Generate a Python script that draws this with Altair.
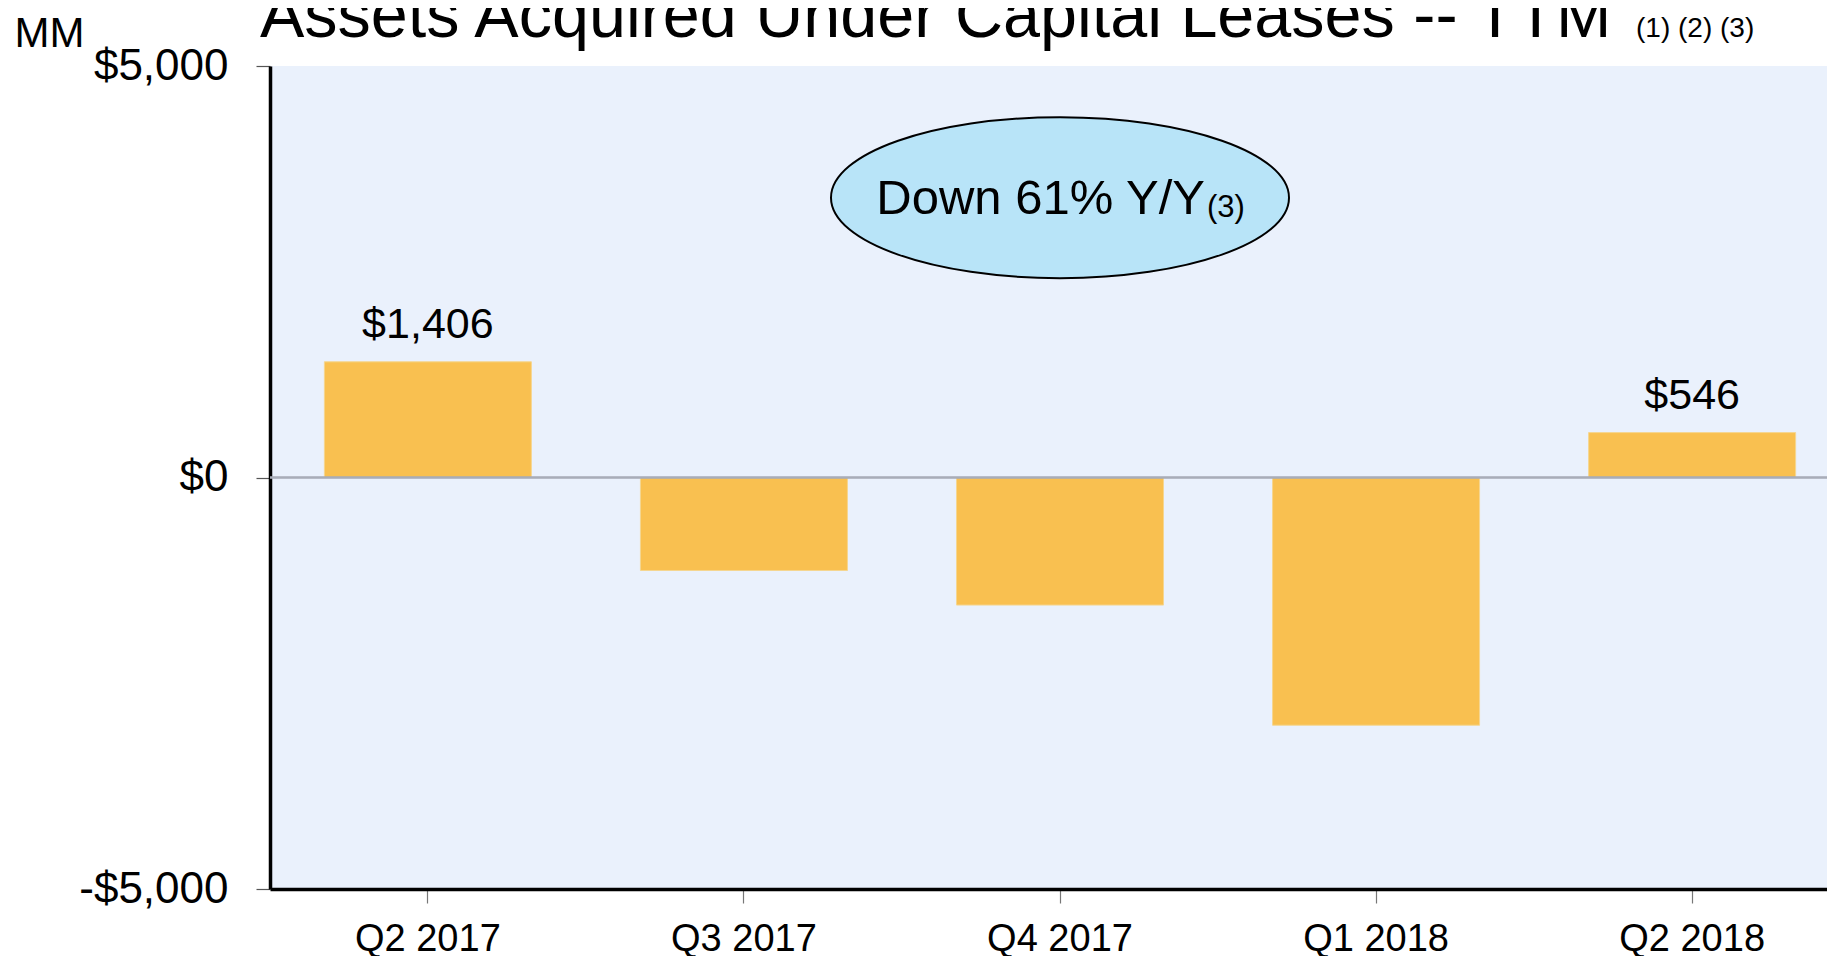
import altair as alt
import pandas as pd

categories = ["Q2 2017", "Q3 2017", "Q4 2017", "Q1 2018", "Q2 2018"]
values = [1406, -1130, -1550, -3010, 546]
bar_labels = ["$1,406", "", "", "", "$546"]
y_ticks = [-5000, 0, 5000]

title_text = "Assets Acquired Under Capital Leases -- TTM"
title_notes = "(1) (2) (3)"
unit_text = "MM"
callout_text = "Down 61% Y/Y"
callout_note = "(3)"
callout_category = "Q4 2017"
callout_value = 3400

FONT = "Liberation Sans"
W, H = 1557, 823

df = pd.DataFrame({"quarter": categories, "value": values, "label": bar_labels})
callout_df = pd.DataFrame({"quarter": [callout_category], "value": [callout_value],
                           "text": [callout_text], "note": [callout_note]})

x_scale = alt.Scale(domain=categories, range=[0, 1580], paddingInner=0.345, paddingOuter=0.172)
y_scale = alt.Scale(domain=[-5000, 5000], nice=False, zero=False)

x_enc = alt.X("quarter:N", scale=x_scale, sort=categories,
              axis=alt.Axis(title=None, labelAngle=0, labelFont=FONT, labelFontSize=38,
                            labelColor="black", labelPadding=17, tickSize=14,
                            tickColor="#777777", tickWidth=1.2, domainColor="black",
                            domainWidth=3.5, labelBaseline="top"))
y_enc = alt.Y("value:Q", scale=y_scale,
              axis=alt.Axis(values=y_ticks, grid=False, title=unit_text,
                            titleAngle=0, titleAlign="left", titleBaseline="alphabetic",
                            titleX=-256, titleY=-20, titleFont=FONT, titleFontSize=42,
                            titleFontWeight="normal", titleColor="black",
                            labelFont=FONT, labelFontSize=44, labelColor="black",
                            labelPadding=28, tickSize=14, tickColor="#555555",
                            tickWidth=1.2, domainColor="black", domainWidth=3.5,
                            labelExpr="datum.value < 0 ? '-$' + format(-datum.value, ',') : '$' + format(datum.value, ',')"))

bars = alt.Chart(df).mark_bar(color="#F9C050", stroke="#F5D690", strokeWidth=1).encode(
    x=x_enc, y=y_enc, y2=alt.datum(0)
)

zero_rule = alt.Chart(df).mark_rule(color="#A8ADB8", strokeWidth=1.5).encode(
    y=alt.datum(0, scale=y_scale), x=alt.value(0), x2=alt.value(W)
)

labels = alt.Chart(df).transform_filter("datum.value > 0").mark_text(
    font=FONT, fontSize=43, color="black", baseline="alphabetic", dy=-24
).encode(x=alt.X("quarter:N", scale=x_scale, sort=categories), y=alt.Y("value:Q", scale=y_scale),
         text="label:N")

ellipse_path = "M-1,0 A1,0.3515 0 1,1 1,0 A1,0.3515 0 1,1 -1,0 Z"
ellipse = alt.Chart(callout_df).mark_point(
    shape=ellipse_path, size=458 * 458, filled=True, fill="#B8E4F8", stroke="black",
    strokeWidth=2, opacity=1, fillOpacity=1
).encode(x=alt.X("quarter:N", scale=x_scale, sort=categories), y=alt.Y("value:Q", scale=y_scale))

callout_main = alt.Chart(callout_df).mark_text(
    font=FONT, fontSize=49, color="black", align="right", baseline="alphabetic", dx=145, dy=16
).encode(x=alt.X("quarter:N", scale=x_scale, sort=categories), y=alt.Y("value:Q", scale=y_scale),
         text="text:N")

callout_sub = alt.Chart(callout_df).mark_text(
    font=FONT, fontSize=31, color="black", align="left", baseline="alphabetic", dx=147, dy=19
).encode(x=alt.X("quarter:N", scale=x_scale, sort=categories), y=alt.Y("value:Q", scale=y_scale),
         text="note:N")

title_mark = alt.Chart(pd.DataFrame({"t": [title_text]})).mark_text(
    font=FONT, fontSize=66.5, color="black", align="left", baseline="alphabetic"
).encode(x=alt.value(-10), y=alt.value(-29), text="t:N")

notes_mark = alt.Chart(pd.DataFrame({"t": [title_notes]})).mark_text(
    font=FONT, fontSize=28, color="black", align="left", baseline="alphabetic"
).encode(x=alt.value(1366), y=alt.value(-29), text="t:N")

chart = alt.layer(
    bars, zero_rule, labels, ellipse, callout_main, callout_sub, title_mark, notes_mark
).properties(
    width=W, height=H,
    autosize=alt.AutoSizeParams(type="none"),
    padding={"left": 262, "top": 58, "right": 0, "bottom": 67},
    background="white",
).configure_view(fill="#EAF1FC", stroke=None)

chart.save("out.html", embed_options={"renderer": "svg", "actions": False})
